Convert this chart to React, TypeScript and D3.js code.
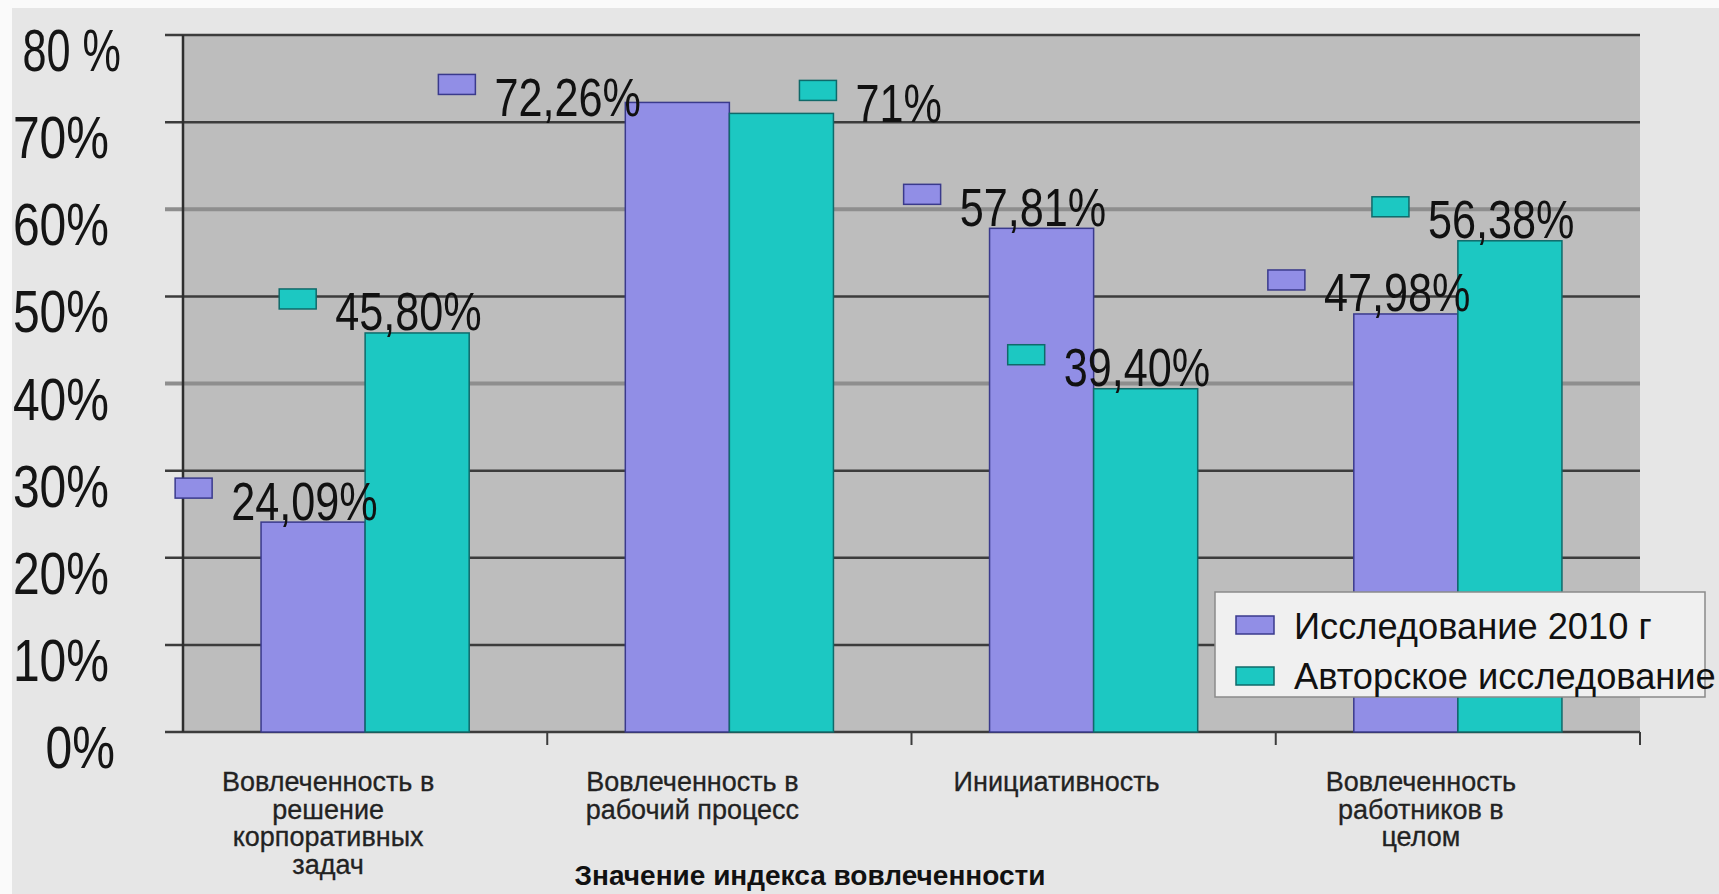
import React from "react";
import * as d3 from "d3";

const categories = [
  "Вовлеченность в\nрешение\nкорпоративных\nзадач",
  "Вовлеченность в\nрабочий процесс",
  "Инициативность",
  "Вовлеченность\nработников в\nцелом",
];
const seriesNames = ["Исследование 2010 г", "Авторское  исследование"];
const values2010 = [24.09, 72.26, 57.81, 47.98];
const valuesAuthor = [45.8, 71, 39.4, 56.38];
const yTickValues = [0, 10, 20, 30, 40, 50, 60, 70, 80];
const yTickLabels = ["0%", "10%", "20%", "30%", "40%", "50%", "60%", "70%", "80 %"];
const axisTitle = "Значение индекса вовлеченности";

const COLORS = ["#918ee6", "#1cc8c2"];
const STROKES = ["#3a3a8c", "#0f6a6a"];
const FONT = "'Liberation Sans', Arial, sans-serif";

// manual label nudges (as in the original: labels of category 2 moved)
const labelNudge = [
  [[0, 0], [0, 0]],
  [[-101, 16], [156, 11]],
  [[0, 0], [0, 0]],
  [[0, 0], [0, 0]],
];

const fmt = (v: number) =>
  Number.isInteger(v) ? `${v}%` : v.toFixed(2).replace(".", ",") + "%";

export default function App() {
  const W = 1719, H = 894;
  const plotL = 183, plotR = 1640, plotT = 35, plotB = 732;
  const y = d3.scaleLinear().domain([0, 80]).range([plotB, plotT]);
  const x0 = d3.scaleBand<string>().domain(categories).range([plotL, plotR]).paddingInner(0).paddingOuter(0);
  const x1 = d3.scaleBand<number>().domain([0, 1]).range([0, x0.bandwidth()]).paddingInner(0).paddingOuter(0.75);
  const series = [values2010, valuesAuthor];

  const lblFs = 54, sx = 0.8;

  return (
    <svg width={W} height={H} style={{ position: "absolute", left: 0, top: 0 }} fontFamily={FONT}>
      <rect x={0} y={0} width={W} height={H} fill="#fafafa" />
      <rect x={12} y={8} width={W - 12} height={H - 8} fill="#e6e6e6" />
      <rect x={plotL} y={plotT} width={plotR - plotL} height={plotB - plotT} fill="#bdbdbd" />
      {yTickValues.map((v) => {
        const light = v === 60 || v === 40;
        return (
          <line key={"g" + v} x1={165} x2={plotR} y1={y(v)} y2={y(v)}
            stroke={light ? "#8e8e8e" : "#3c3c3c"} strokeWidth={light ? 4 : 2.5} />
        );
      })}
      <line x1={plotL} x2={plotL} y1={plotT} y2={plotB} stroke="#2e2e2e" strokeWidth={2.5} />
      {categories.map((c, i) => (
        <line key={"t" + i} x1={(x0(c) as number) + x0.bandwidth()} x2={(x0(c) as number) + x0.bandwidth()}
          y1={plotB} y2={plotB + 13} stroke="#3c3c3c" strokeWidth={2} />
      ))}
      {yTickValues.map((v, i) => (
        <text key={"yl" + v} transform={`translate(${v === 80 ? 121 : v === 0 ? 115 : 109},${y(v) + 36}) scale(${v === 80 ? 0.72 : sx},1)`}
          textAnchor="end" fontSize={60} fill="#151515">{yTickLabels[i]}</text>
      ))}
      {categories.map((c, ci) =>
        series.map((vals, si) => {
          const bx = (x0(c) as number) + (x1(si) as number);
          return (
            <rect key={`b${ci}${si}`} x={bx} y={y(vals[ci])} width={x1.bandwidth()}
              height={plotB - y(vals[ci])} fill={COLORS[si]} stroke={STROKES[si]} strokeWidth={1.5} />
          );
        })
      )}
      {categories.map((c, ci) =>
        series.map((vals, si) => {
          const bRight = (x0(c) as number) + (x1(si) as number) + x1.bandwidth();
          const [dx, dy] = labelNudge[ci][si];
          const tx = bRight - 134 + dx;
          const cy = y(vals[ci]) - 22 + dy;
          return (
            <g key={`l${ci}${si}`}>
              <rect x={tx - 56} y={cy - 22} width={37} height={20} fill={COLORS[si]} stroke={STROKES[si]} strokeWidth={1.5} />
              <text transform={`translate(${tx},${cy + 0.36 * lblFs}) scale(${sx},1)`} fontSize={lblFs} fill="#111">
                {fmt(vals[ci])}
              </text>
            </g>
          );
        })
      )}
      {categories.map((c, ci) => {
        const cx = (x0(c) as number) + x0.bandwidth() / 2 - 37;
        return (
          <text key={"c" + ci} textAnchor="middle" fontSize={27} fill="#222" stroke="#222" strokeWidth={0.3}>
            {c.split("\n").map((line, li) => (
              <tspan key={li} x={cx} y={791 + li * 27.5}>{line}</tspan>
            ))}
          </text>
        );
      })}
      <text x={810} y={885} textAnchor="middle" fontSize={28} fontWeight="bold" fill="#111">{axisTitle}</text>
      <rect x={1215} y={592} width={490} height={105} fill="#f0f0f0" stroke="#8a8a8a" strokeWidth={1.5} />
      {seriesNames.map((s, i) => (
        <g key={"lg" + i}>
          <rect x={1236} y={616 + i * 51} width={38} height={18} fill={COLORS[i]} stroke={STROKES[i]} strokeWidth={1.5} />
          <text transform={`translate(1294,${626 + i * 50 + 13}) scale(0.98,1)`} fontSize={37} fill="#111">{s}</text>
        </g>
      ))}
    </svg>
  );
}
